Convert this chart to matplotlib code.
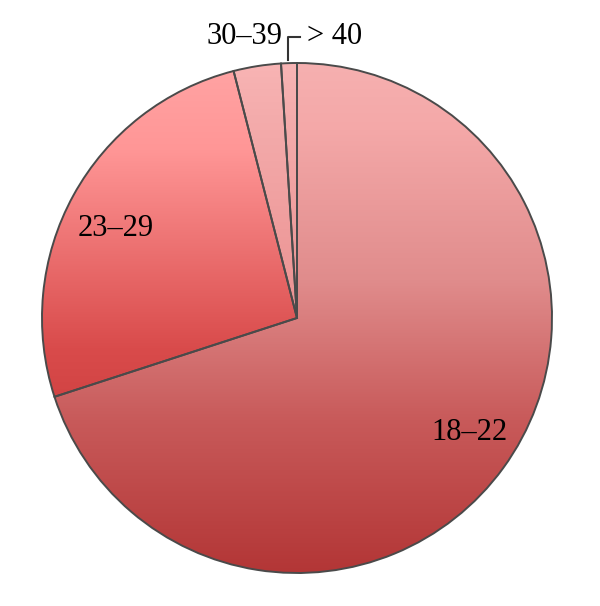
import numpy as np
import matplotlib.pyplot as plt
from matplotlib.colors import LinearSegmentedColormap

# datos
labels = ['18–22', '23–29', '30–39', '> 40']
values = [70, 26, 3, 1]

# paradas del degradado (0 = abajo, 1 = arriba) para cada porcion
gradients = [
    [(0, '#b33636'), (0.3, '#c85a5a'), (0.575, '#e08c8c'), (0.87, '#f4a8a8'), (1, '#f6b0b0')],
    [(0, '#b82a2a'), (0.44, '#d94b4b'), (0.83, '#ff9696'), (1, '#ffa4a4')],
    [(0, '#e07070'), (0.9, '#f4acac'), (1, '#f8b4b4')],
    [(0, '#e07070'), (0.9, '#f4acac'), (1, '#f8b4b4')],
]

fig = plt.figure(figsize=(6.0, 6.06), dpi=100)
ax = fig.add_axes([0, 0, 1, 1])

cx, cy, r = 297, 318, 255  # centro y radio en pixeles


def to_data(px, py):
    return (px - cx) / r, (cy - py) / r


wedges, _ = ax.pie(values, startangle=90, counterclock=False, radius=1,
                   wedgeprops=dict(edgecolor='#4a4a4a', linewidth=1.4))

# degradado vertical en cada porcion
grad = np.linspace(1, 0, 256).reshape(-1, 1)
for w, stops in zip(wedges, gradients):
    cmap = LinearSegmentedColormap.from_list('g', stops)
    im = ax.imshow(grad, cmap=cmap, vmin=0, vmax=1, extent=(-1, 1, -1, 1),
                   aspect='auto', zorder=w.get_zorder() - 0.1)
    im.set_clip_path(w)
    w.set_facecolor('none')

ax.set_xlim(-cx / r, (600 - cx) / r)
ax.set_ylim(-(606 - cy) / r, cy / r)
ax.set_aspect('equal')
ax.axis('off')

font = dict(family=['Liberation Serif', 'DejaVu Serif'], fontsize=22, color='black')
ax.text(*to_data(469, 433), labels[0], ha='center', va='center', **font)
ax.text(*to_data(116, 228), labels[1], ha='center', va='center', **font)
ax.text(*to_data(245, 37), labels[2], ha='center', va='center', **font)
ax.text(*to_data(335, 37), labels[3], ha='center', va='center', **font)

# linea guia para > 40
p = [to_data(288, 60), to_data(288, 37), to_data(300, 37)]
ax.plot([q[0] for q in p], [q[1] for q in p], color='#333333', lw=1.5)

fig.savefig('out.png', dpi=100)
